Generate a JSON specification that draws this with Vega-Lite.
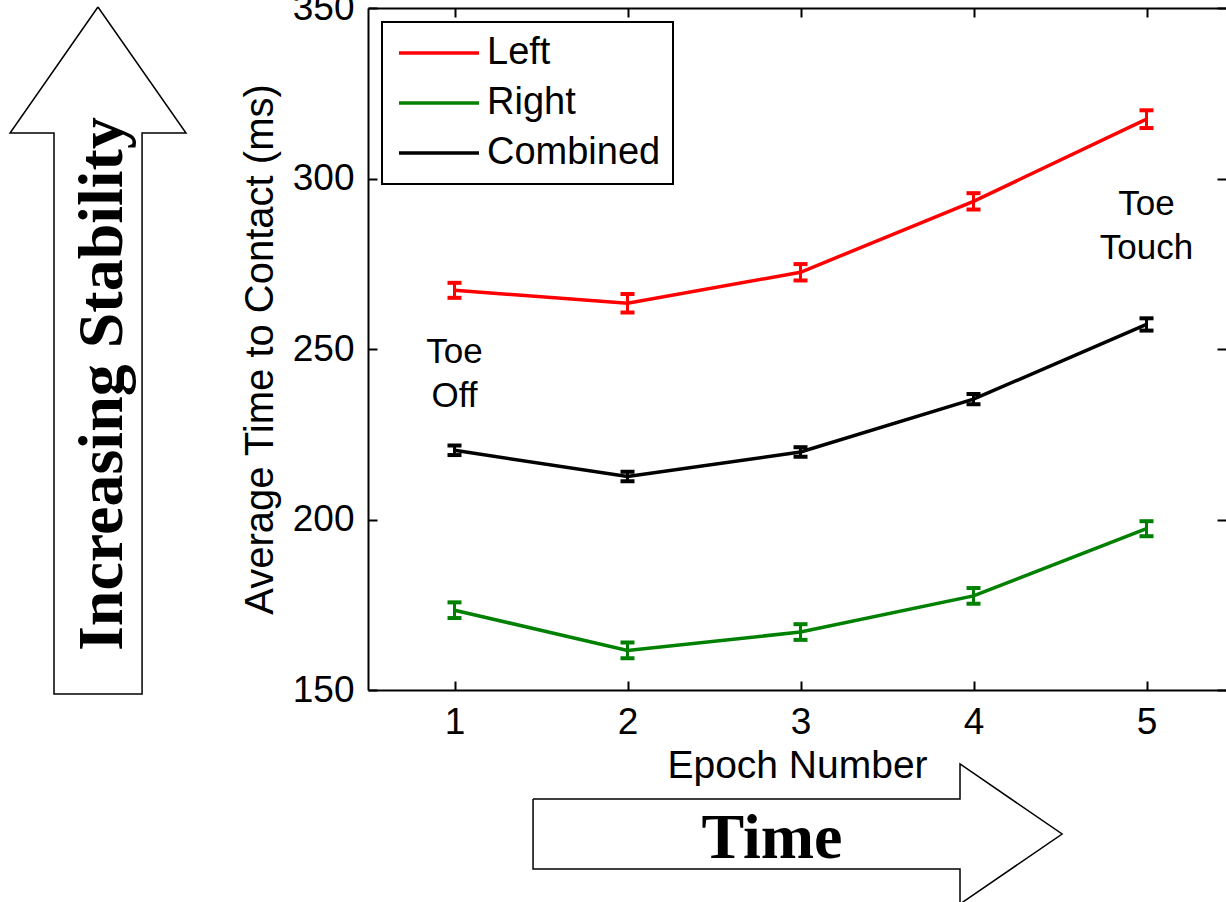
{
  "$schema": "https://vega.github.io/schema/vega-lite/v6.json",
  "autosize": {"type": "none"},
  "padding": {"left": 368, "top": 8, "right": 0, "bottom": 212},
  "width": 858,
  "height": 682,
  "background": "white",
  "datasets": {
    "main": [
      {"series": "Left", "epoch": 1, "value": 267.2, "err": 2.2},
      {"series": "Left", "epoch": 2, "value": 263.4, "err": 2.7},
      {"series": "Left", "epoch": 3, "value": 272.5, "err": 2.4},
      {"series": "Left", "epoch": 4, "value": 293.3, "err": 2.4},
      {"series": "Left", "epoch": 5, "value": 317.4, "err": 2.6},
      {"series": "Right", "epoch": 1, "value": 173.4, "err": 2.3},
      {"series": "Right", "epoch": 2, "value": 161.6, "err": 2.3},
      {"series": "Right", "epoch": 3, "value": 167.0, "err": 2.3},
      {"series": "Right", "epoch": 4, "value": 177.6, "err": 2.3},
      {"series": "Right", "epoch": 5, "value": 197.3, "err": 2.2},
      {"series": "Combined", "epoch": 1, "value": 220.3, "err": 1.4},
      {"series": "Combined", "epoch": 2, "value": 212.6, "err": 1.4},
      {"series": "Combined", "epoch": 3, "value": 219.8, "err": 1.4},
      {"series": "Combined", "epoch": 4, "value": 235.3, "err": 1.5},
      {"series": "Combined", "epoch": 5, "value": 257.2, "err": 1.8}
    ],
    "arrows": [
      {"arrow": "up", "i": 0, "ex": -1.061, "ms": 350.29},
      {"arrow": "up", "i": 1, "ex": -0.552, "ms": 313.34},
      {"arrow": "up", "i": 2, "ex": -0.806, "ms": 313.34},
      {"arrow": "up", "i": 3, "ex": -0.806, "ms": 148.83},
      {"arrow": "up", "i": 4, "ex": -1.315, "ms": 148.83},
      {"arrow": "up", "i": 5, "ex": -1.315, "ms": 313.34},
      {"arrow": "up", "i": 6, "ex": -1.569, "ms": 313.34},
      {"arrow": "up", "i": 7, "ex": -1.061, "ms": 350.29},
      {"arrow": "right", "i": 0, "ex": 1.454, "ms": 118.04},
      {"arrow": "right", "i": 1, "ex": 3.922, "ms": 118.04},
      {"arrow": "right", "i": 2, "ex": 3.922, "ms": 128.30},
      {"arrow": "right", "i": 3, "ex": 4.512, "ms": 107.77},
      {"arrow": "right", "i": 4, "ex": 3.922, "ms": 87.24},
      {"arrow": "right", "i": 5, "ex": 3.922, "ms": 97.51},
      {"arrow": "right", "i": 6, "ex": 1.454, "ms": 97.51},
      {"arrow": "right", "i": 7, "ex": 1.454, "ms": 118.04}
    ],
    "notes": [
      {"text": "Toe", "ex": 1, "ms": 249.1},
      {"text": "Off", "ex": 1, "ms": 236.2},
      {"text": "Toe", "ex": 5, "ms": 292.4},
      {"text": "Touch", "ex": 5, "ms": 279.5}
    ],
    "vlabel": [
      {"text": "Increasing Stability", "ex": -1.032, "ms": 239.7}
    ],
    "hlabel": [
      {"text": "Time", "ex": 2.835, "ms": 106.3}
    ]
  },
  "resolve": {"axis": {"x": "independent", "y": "independent"}},
  "layer": [
    {
      "data": {"name": "main"},
      "mark": {"type": "line", "strokeWidth": 3.5, "clip": false},
      "encoding": {
        "x": {"field": "epoch", "type": "quantitative",
          "scale": {"domain": [0.5, 5.4595], "nice": false, "zero": false},
          "axis": {"orient": "bottom", "values": [1, 2, 3, 4, 5], "title": "Epoch Number",
            "tickSize": -9, "labelPadding": 23, "titleBaseline": "alphabetic", "titleY": 87,
            "titleFontSize": 39, "labelFontSize": 37}},
        "y": {"field": "value", "type": "quantitative",
          "scale": {"domain": [150, 350], "nice": false, "zero": false},
          "axis": {"orient": "left", "values": [150, 200, 250, 300, 350], "title": "Average Time to Contact (ms)",
            "tickSize": -9, "labelPadding": 23, "titleBaseline": "alphabetic", "titleX": -96, "titleY": 341,
            "titleAngle": 270, "titleFontSize": 40, "labelFontSize": 37}},
        "color": {"field": "series", "type": "nominal",
          "scale": {"domain": ["Left", "Right", "Combined"], "range": ["#ff0000", "#008000", "#000000"]},
          "legend": {"orient": "none", "legendX": 14, "legendY": 14, "title": null,
            "symbolType": "M-4,0H4", "symbolSize": 400, "symbolStrokeWidth": 3.5, "symbolOffset": 26,
            "labelFontSize": 38, "labelFont": "Liberation Sans", "labelColor": "black", "labelOffset": 29,
            "labelLimit": 0, "padding": 12, "rowPadding": 12, "strokeColor": "black", "fillColor": "white"}}
      }
    },
    {
      "data": {"name": "main"},
      "mark": {"type": "errorbar", "ticks": {"size": 14, "thickness": 4, "opacity": 1}, "rule": {"strokeWidth": 3, "opacity": 1}, "thickness": 3, "opacity": 1},
      "encoding": {
        "x": {"field": "epoch", "type": "quantitative", "axis": null},
        "y": {"field": "value", "type": "quantitative", "axis": null},
        "yError": {"field": "err"},
        "color": {"field": "series", "type": "nominal", "legend": null}
      }
    },
    {
      "data": {"name": "notes"},
      "mark": {"type": "text", "font": "Liberation Sans", "fontSize": 35, "align": "center", "baseline": "middle", "color": "black"},
      "encoding": {
        "x": {"field": "ex", "type": "quantitative",
          "axis": {"orient": "top", "values": [1, 2, 3, 4, 5], "labels": false, "title": null, "tickSize": -9, "domain": true}},
        "y": {"field": "ms", "type": "quantitative",
          "axis": {"orient": "right", "values": [150, 200, 250, 300, 350], "labels": false, "title": null, "tickSize": -9, "domain": false}},
        "text": {"field": "text"}
      }
    },
    {
      "data": {"name": "arrows"},
      "mark": {"type": "line", "color": "black", "strokeWidth": 1.5, "strokeJoin": "miter", "clip": false},
      "encoding": {
        "x": {"field": "ex", "type": "quantitative", "axis": null},
        "y": {"field": "ms", "type": "quantitative", "axis": null},
        "detail": {"field": "arrow"},
        "order": {"field": "i", "type": "quantitative"}
      }
    },
    {
      "data": {"name": "vlabel"},
      "mark": {"type": "text", "font": "Liberation Serif", "fontWeight": "bold", "fontSize": 64, "angle": 270, "align": "center", "baseline": "middle", "color": "black"},
      "encoding": {
        "x": {"field": "ex", "type": "quantitative", "axis": null},
        "y": {"field": "ms", "type": "quantitative", "axis": null},
        "text": {"field": "text"}
      }
    },
    {
      "data": {"name": "hlabel"},
      "mark": {"type": "text", "font": "Liberation Serif", "fontWeight": "bold", "fontSize": 64, "align": "center", "baseline": "middle", "color": "black"},
      "encoding": {
        "x": {"field": "ex", "type": "quantitative", "axis": null},
        "y": {"field": "ms", "type": "quantitative", "axis": null},
        "text": {"field": "text"}
      }
    }
  ],
  "config": {
    "view": {"stroke": null},
    "font": "Liberation Sans",
    "axis": {"grid": false, "domainColor": "black", "domainWidth": 2, "tickColor": "black", "tickWidth": 2,
      "labelColor": "black", "labelFont": "Liberation Sans", "titleFont": "Liberation Sans", "titleColor": "black",
      "titleFontWeight": "normal"},
    "legend": {"strokeWidth": 2}
  }
}
